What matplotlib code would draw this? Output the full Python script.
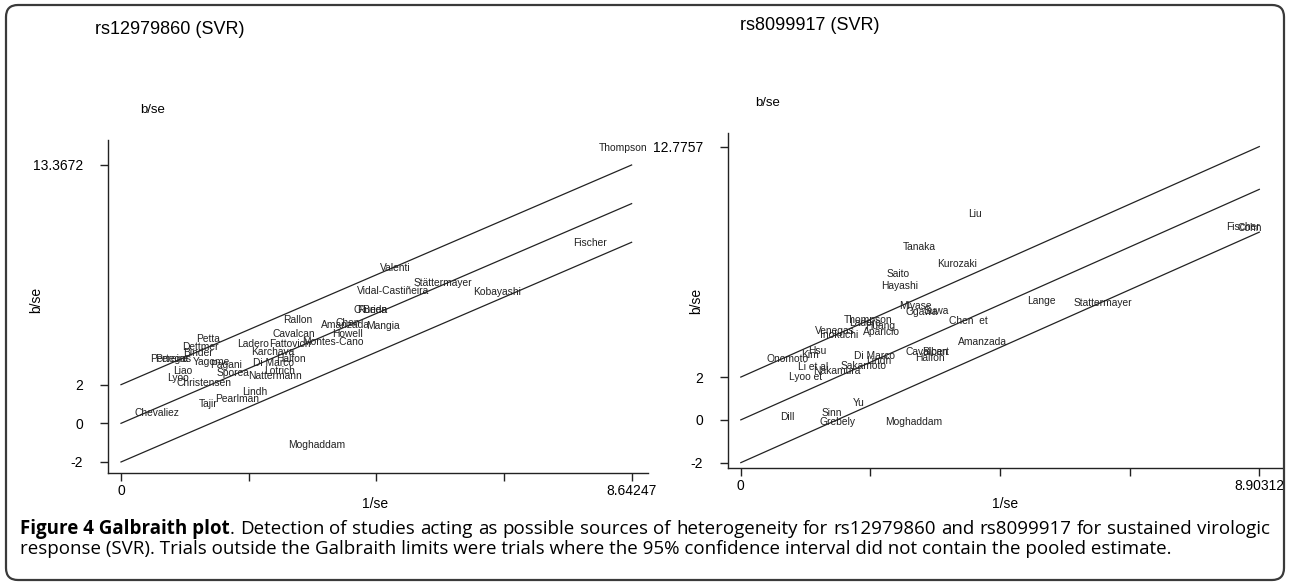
import matplotlib.pyplot as plt
from matplotlib.patches import FancyBboxPatch

plt.rcParams['font.family'] = ['Liberation Sans Narrow', 'Liberation Sans', 'DejaVu Sans']

# ---- rs12979860 (SVR) ----
left_names = ['Chevaliez', 'Tajir', 'Pearlman', 'Lindh', 'Moghaddam', 'Christensen',
              'Lyoo', 'Liao', 'Pertegas', 'Pereira', 'Petta', 'Dettmer', 'Binder',
              'Ladero', 'Fattovich', 'Karchava', 'Halfon', 'Lotrich', 'Nattermann',
              'Sporea', 'Di Marco', 'Yagome', 'Pagani', 'Cavalcan', 'Rallon',
              'Montes-Cano', 'Chen', 'Amanzada', 'Howell', 'Mangia', "O'Brien",
              'Rueda', 'Valenti', 'Vidal-Castiñeira', 'Stättermayer', 'Kobayashi',
              'Fischer', 'Thompson']
left_x = [0.60, 1.48, 1.96, 2.27, 3.32, 1.40, 0.97, 1.04, 0.84, 0.86, 1.48, 1.34, 1.30,
          2.24, 2.85, 2.57, 2.87, 2.69, 2.61, 1.89, 2.58, 1.53, 1.78, 2.93, 3.00,
          3.59, 3.83, 3.80, 3.83, 4.44, 4.22, 4.26, 4.64, 4.60, 5.45, 6.36, 7.94, 8.50]
left_y = [0.52, 1.00, 1.24, 1.63, -1.12, 2.07, 2.33, 2.72, 3.31, 3.31, 4.35, 3.96, 3.65,
          4.10, 4.10, 3.71, 3.31, 2.72, 2.45, 2.62, 3.10, 3.19, 3.00, 4.62, 5.34,
          4.19, 5.17, 5.10, 4.62, 5.03, 5.86, 5.86, 8.02, 6.86, 7.24, 6.81, 9.31, 14.23]
left_xmax = 8.64247
left_ytop = 13.3672
left_slope = 1.3153

# ---- rs8099917 (SVR) ----
right_names = ['Dill', 'Sinn', 'Grebely', 'Yu', 'Moghaddam', 'Onomoto', 'Kim', 'Hsu',
               'Lyoo et', 'Li et al', 'Nakamura', 'Sakamoto', 'Di Marco', 'Lindh',
               'Venegas', 'Inokuchi', 'Thompson', 'Ladero', 'Huang', 'Aparicio',
               'Miyase', 'Ogawa', 'Suwa', 'Hayashi', 'Saito', 'Tanaka', 'Kurozaki',
               'Liu', 'Chen  et', 'Amanzada', 'Lange', 'Stattermayer', 'Cavalcan',
               'Bibert', 'Halfon', 'Fischer', 'Cohn']
right_x = [0.79, 1.56, 1.66, 2.03, 2.96, 0.81, 1.19, 1.31, 1.11, 1.25, 1.64, 2.11, 2.30,
           2.37, 1.62, 1.69, 2.19, 2.14, 2.39, 2.41, 2.99, 3.10, 3.35, 2.73, 2.70,
           3.06, 3.71, 4.02, 3.91, 4.15, 5.16, 6.22, 3.20, 3.35, 3.25, 8.63, 8.74]
right_y = [0.13, 0.31, -0.08, 0.81, -0.12, 2.85, 3.05, 3.20, 2.02, 2.49, 2.30, 2.52, 2.99,
           2.75, 4.17, 3.97, 4.67, 4.55, 4.39, 4.13, 5.33, 5.06, 5.11, 6.26, 6.82,
           8.10, 7.27, 9.61, 4.64, 3.66, 5.58, 5.48, 3.19, 3.19, 2.88, 9.03, 8.95]
right_xmax = 8.90312
right_ytop = 12.7757
right_slope = 1.2103

fig = plt.figure(figsize=(12.9, 5.85), dpi=100)

frame = FancyBboxPatch((0.06, 0.05), 12.78, 5.75, boxstyle='round,pad=0,rounding_size=0.12',
                       transform=fig.dpi_scale_trans, facecolor='none', edgecolor='#3a3a3a',
                       linewidth=1.6)
fig.patches.append(frame)


def galbraith(ax, names, xs, ys, xmax, slope, ytop, xlim, ylim):
    for off in [2, 0, -2]:
        ax.plot([0, xmax], [off, off + slope * xmax], color='#222222', lw=0.9)
    for n, x, y in zip(names, xs, ys):
        ax.text(x, y, n, ha='center', va='center', fontsize=7.4, color='#222222')
    ax.set_xlim(xlim)
    ax.set_ylim(ylim)
    ax.spines['top'].set_visible(False)
    ax.spines['right'].set_visible(False)
    for s in ['left', 'bottom']:
        ax.spines[s].set_linewidth(1.0)
        ax.spines[s].set_color('#222222')
    ax.set_yticks([-2, 0, 2, ytop])
    ax.set_yticklabels(['-2', '0', '2', '%g' % ytop])
    ax.set_xticks([0, xmax / 4, xmax / 2, 3 * xmax / 4, xmax])
    ax.set_xticklabels(['0', '', '', '', '%g' % xmax])
    ax.tick_params(length=6, width=1.0, labelsize=10, color='#222222')
    ax.tick_params(axis='y', pad=12)
    ax.tick_params(axis='x', pad=2)
    ax.set_xlabel('1/se', fontsize=10)
    ax.set_ylabel('b/se', fontsize=10)


ax1 = fig.add_axes([108 / 1290, 1 - 473 / 585, 540 / 1290, 333 / 585])
galbraith(ax1, left_names, left_x, left_y, left_xmax, left_slope, left_ytop,
          (-0.22, 8.92), (-2.57, 14.66))
ax1.yaxis.set_label_coords(-0.12, 0.52)
ax1.xaxis.set_label_coords(0.494, -0.072)

ax2 = fig.add_axes([728 / 1290, 1 - 468 / 585, 555 / 1290, 335 / 585])
galbraith(ax2, right_names, right_x, right_y, right_xmax, right_slope, right_ytop,
          (-0.22, 9.31), (-2.25, 13.41))
ax2.yaxis.set_label_coords(-0.045, 0.50)
ax2.xaxis.set_label_coords(0.499, -0.088)

fig.text(95 / 1290, 1 - 30 / 585, 'rs12979860 (SVR)', fontsize=13, va='center')
fig.text(740 / 1290, 1 - 25 / 585, 'rs8099917 (SVR)', fontsize=13, va='center')
fig.text(140 / 1290, 1 - 110 / 585, 'b/se', fontsize=9.5, va='center')
fig.text(755 / 1290, 1 - 103 / 585, 'b/se', fontsize=9.5, va='center')

# caption, first line justified word by word
line1_bold = 'Figure 4 Galbraith plot'
line1_rest = ('Detection of studies acting as possible sources of heterogeneity for '
              'rs12979860 and rs8099917 for sustained virologic')
line2 = ('response (SVR). Trials outside the Galbraith limits were trials where the 95% '
         'confidence interval did not contain the pooled estimate.')
cap_font = ['Open Sans', 'DejaVu Sans']
cap_size = 13.5
r = fig.canvas.get_renderer()
x0, x1 = 20, 1270
yl1 = 1 - 529 / 585
tb = fig.text(x0 / 1290, yl1, line1_bold, fontsize=cap_size, family=cap_font,
              weight='bold', va='center')
cur = x0 + tb.get_window_extent(r).width
td = fig.text(cur / 1290, yl1, '.', fontsize=cap_size, family=cap_font, va='center')
cur += td.get_window_extent(r).width
words = line1_rest.split(' ')
ws = []
for w in words:
    t = fig.text(0, yl1, w, fontsize=cap_size, family=cap_font, va='center')
    ws.append((t, t.get_window_extent(r).width))
gap = (x1 - cur - sum(w for _, w in ws)) / len(words)
for t, w in ws:
    cur += gap
    t.set_x(cur / 1290)
    cur += w
fig.text(x0 / 1290, 1 - 549 / 585, line2, fontsize=cap_size, family=cap_font, va='center')

fig.savefig('out.png', dpi=100)
